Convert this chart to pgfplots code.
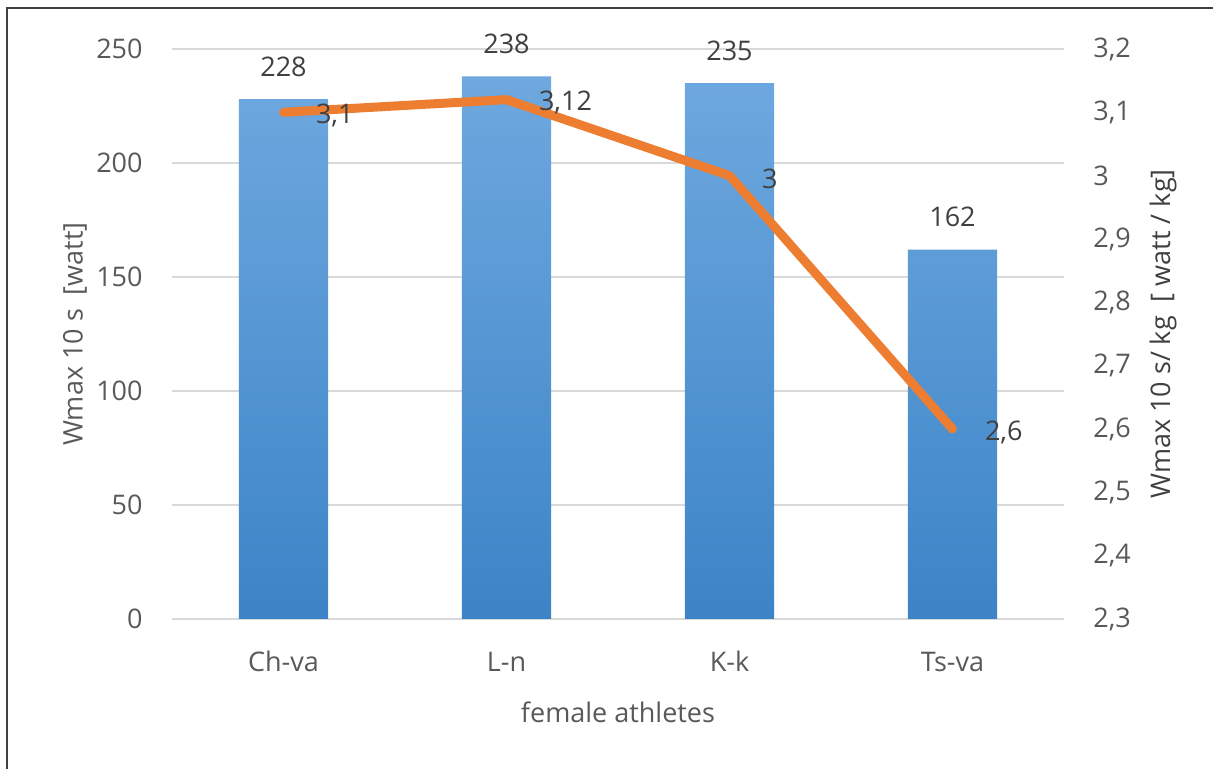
\documentclass[border=0pt]{standalone}
\usepackage{pgfplots}
\pgfplotsset{compat=1.18}
\usepackage{fontspec}
\setmainfont{Open Sans}
\definecolor{txt}{HTML}{595959}
\definecolor{dark}{HTML}{404040}
\definecolor{gridc}{HTML}{D9D9D9}
\definecolor{barT}{HTML}{6EA8DF}
\definecolor{barB}{HTML}{3C84C7}
\definecolor{orng}{HTML}{ED7D31}
\newcommand{\fs}{\fontsize{13.5}{16}\selectfont}
\begin{document}
\begin{tikzpicture}
\useasboundingbox (-86pt,-75pt) rectangle (520.5pt,309.5pt);
\draw[dark, line width=1pt] (-82.5pt,-75pt) -- (-82.5pt,305.25pt) -- (520.5pt,305.25pt);
\begin{axis}[
  at={(0,0)}, anchor=south west, scale only axis,
  width=446pt, height=285pt,
  xmin=-0.5, xmax=3.5, ymin=0, ymax=250,
  ytick={0,50,100,150,200,250},
  xtick={0,1,2,3}, xticklabels={Ch-va,L-n,K-k,Ts-va},
  axis y line*=left, axis x line*=bottom,
  axis line style={draw=none}, major tick length=0pt,
  ymajorgrids, grid style={gridc, line width=1pt},
  /pgf/number format/assume math mode=true,
  tick label style={font=\fs, text=txt, inner sep=0pt},
  yticklabel style={anchor=east, xshift=-14.5pt},
  xticklabel style={anchor=base, yshift=-26.5pt},
  xlabel={female athletes}, ylabel={Wmax 10 s\ \ [watt]},
  every axis x label/.style={at={(axis description cs:0.5,0)}, anchor=base, yshift=-51.5pt, font=\fs, text=txt, inner sep=0pt},
  every axis y label/.style={at={(axis description cs:0,0.5)}, xshift=-48.5pt, anchor=center, rotate=90, font=\fs, text=txt, inner sep=0pt},
  ybar, bar width=0.4,
  nodes near coords,
  every node near coord/.append style={font=\fs, text=dark, inner sep=0pt, anchor=south, yshift=11pt},
]
\addplot[draw=none, top color=barT, bottom color=barB] coordinates {(0,228) (1,238) (2,235) (3,162)};
\end{axis}
\begin{axis}[
  at={(0,0)}, anchor=south west, scale only axis,
  width=446pt, height=285pt,
  xmin=-0.5, xmax=3.5, ymin=2.3, ymax=3.2,
  ytick={2.3,2.4,2.5,2.6,2.7,2.8,2.9,3.0,3.1,3.2},
  axis x line=none, axis y line*=right,
  axis line style={draw=none}, major tick length=0pt,
  /pgf/number format/use comma,
  /pgf/number format/assume math mode=true,
  tick label style={font=\fs, text=txt, inner sep=0pt},
  yticklabel style={anchor=west, xshift=14.5pt},
  ylabel={Wmax 10 s/ kg\ \ [ watt / kg]},
  every axis y label/.style={at={(axis description cs:1,0.5)}, xshift=49.5pt, anchor=center, rotate=90, font=\fs, text=dark, inner sep=0pt},
]
\addplot[orng, line width=4.5pt, line cap=round, line join=round, mark=none,
  nodes near coords,
  every node near coord/.append style={font=\fs, text=dark, inner sep=0pt, anchor=west, xshift=14pt, yshift=-1.5pt}]
  coordinates {(0,3.1) (1,3.12) (2,3.0) (3,2.6)};
\end{axis}
\end{tikzpicture}
\end{document}
